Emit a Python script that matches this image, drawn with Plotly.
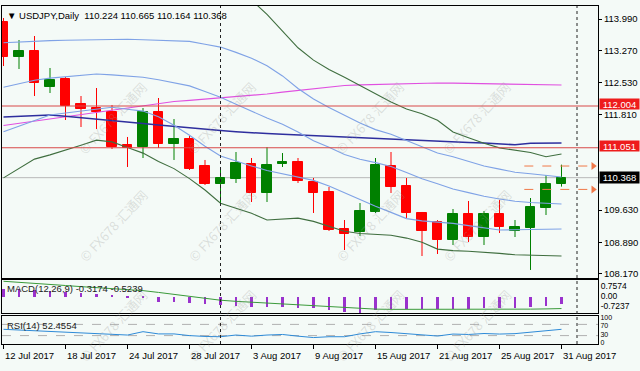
import plotly.graph_objects as go

# ---------------- data ----------------
bar_dates = ["12 Jul", "13 Jul", "14 Jul", "17 Jul", "18 Jul", "19 Jul", "20 Jul", "21 Jul",
             "24 Jul", "25 Jul", "26 Jul", "27 Jul", "28 Jul", "31 Jul", "1 Aug", "2 Aug",
             "3 Aug", "4 Aug", "7 Aug", "8 Aug", "9 Aug", "10 Aug", "11 Aug", "14 Aug",
             "15 Aug", "16 Aug", "17 Aug", "18 Aug", "21 Aug", "22 Aug", "23 Aug", "24 Aug",
             "25 Aug", "28 Aug", "29 Aug", "30 Aug", "31 Aug"]
tick_idx = [0, 4, 8, 12, 16, 20, 24, 28, 32, 36]
tick_labels = ["12 Jul 2017", "18 Jul 2017", "24 Jul 2017", "28 Jul 2017", "3 Aug 2017",
               "9 Aug 2017", "15 Aug 2017", "21 Aug 2017", "25 Aug 2017", "31 Aug 2017"]

opens = [113.922, 113.123, 113.260, 112.438, 112.620, 112.050, 111.958, 111.867, 111.114, 111.068,
         111.867, 111.137, 111.251, 110.635, 110.224, 110.338, 110.680, 110.018, 110.680, 110.726,
         110.269, 110.041, 109.197, 109.128, 109.585, 110.635, 110.178, 109.562, 109.356, 108.945,
         109.539, 109.014, 109.539, 109.151, 109.219, 109.676, 110.224]
highs = [114.013, 113.511, 113.602, 112.872, 112.666, 112.232, 112.415, 112.027, 111.297, 111.958,
         112.187, 111.707, 111.319, 110.772, 110.566, 110.954, 110.817, 111.068, 110.931, 110.817,
         110.361, 110.155, 109.402, 109.790, 110.817, 110.954, 110.361, 109.585, 109.400, 109.653,
         109.836, 109.607, 109.858, 109.402, 109.904, 110.429, 110.665]
lows = [112.917, 112.849, 112.232, 112.301, 111.685, 111.525, 111.479, 111.023, 110.612, 110.817,
        111.046, 110.772, 110.543, 110.201, 109.744, 110.247, 109.813, 109.813, 110.612, 110.247,
        109.562, 109.151, 108.717, 109.037, 109.562, 110.018, 109.448, 108.580, 108.626, 108.831,
        108.900, 108.831, 109.105, 109.014, 108.261, 109.516, 110.164]
closes = [113.123, 113.260, 112.529, 112.598, 112.004, 111.936, 111.867, 111.068, 111.046, 111.867,
          111.137, 111.251, 110.566, 110.224, 110.361, 110.703, 110.018, 110.657, 110.726, 110.292,
          110.018, 109.174, 109.082, 109.607, 110.657, 110.155, 109.562, 109.151, 108.945, 109.539,
          109.014, 109.539, 109.242, 109.242, 109.699, 110.224, 110.368]

ma_magenta = [111.559, 111.609, 111.657, 111.707, 111.765, 111.819, 111.869, 111.920, 111.970, 112.018,
              112.068, 112.107, 112.134, 112.162, 112.187, 112.219, 112.248, 112.278, 112.319, 112.358,
              112.399, 112.436, 112.472, 112.488, 112.497, 112.506, 112.516, 112.522, 112.529, 112.525,
              112.520, 112.518, 112.513, 112.511, 112.506, 112.495, 112.484]
ma_navy = [111.755, 111.771, 111.785, 111.799, 111.769, 111.739, 111.710, 111.680, 111.641, 111.607,
           111.568, 111.534, 111.498, 111.470, 111.443, 111.418, 111.390, 111.374, 111.358, 111.342,
           111.326, 111.308, 111.292, 111.274, 111.256, 111.237, 111.224, 111.210, 111.198, 111.185,
           111.173, 111.160, 111.135, 111.119, 111.153, 111.160, 111.160]
ma_blue_a = [113.447, 113.467, 113.490, 113.497, 113.506, 113.513, 113.522, 113.531, 113.527, 113.518,
             113.506, 113.497, 113.479, 113.415, 113.349, 113.228, 113.095, 112.924, 112.691, 112.404,
             112.164, 111.970, 111.792, 111.616, 111.465, 111.358, 111.219, 111.075, 110.931, 110.845,
             110.737, 110.634, 110.564, 110.493, 110.457, 110.420, 110.384]
bb_mid = [112.433, 112.513, 112.593, 112.641, 112.673, 112.703, 112.735, 112.714, 112.689, 112.662,
          112.602, 112.541, 112.463, 112.335, 112.205, 112.043, 111.885, 111.730, 111.589, 111.411,
          111.210, 111.064, 110.899, 110.790, 110.712, 110.623, 110.484, 110.345, 110.228, 110.110,
          110.027, 109.943, 109.883, 109.831, 109.801, 109.783, 109.767]
ma_blue_c = [111.418, 111.543, 111.671, 111.799, 111.844, 111.892, 111.940, 111.977, 111.931, 111.888,
             111.760, 111.564, 111.338, 111.084, 110.861, 110.742, 110.637, 110.530, 110.454, 110.388,
             110.306, 110.180, 110.020, 109.859, 109.717, 109.576, 109.434, 109.382, 109.357, 109.324,
             109.274, 109.224, 109.174, 109.178, 109.185, 109.192, 109.197]
bb_upper = [None] * 15 + [114.698, 114.424, 114.095, 113.725, 113.333, 113.052, 112.837, 112.659,
                          112.474, 112.283, 112.093, 111.936, 111.828, 111.680, 111.411, 111.281,
                          111.155, 111.048, 110.993, 110.941, 110.847, 110.909]
bb_lower = [110.363, 110.578, 110.792, 110.888, 110.993, 111.107, 111.224, 111.185, 111.057, 110.929,
            110.737, 110.575, 110.347, 110.087, 109.785, 109.674, 109.555, 109.402, 109.423, 109.445,
            109.370, 109.265, 109.146, 109.094, 109.076, 109.055, 108.989, 108.895, 108.738, 108.703,
            108.687, 108.669, 108.640, 108.608, 108.596, 108.587, 108.580]

macd_hist = [0.37, 0.34, 0.31, 0.27, 0.235, 0.19, 0.15, 0.09, -0.03, -0.06, -0.21, -0.25, -0.28,
             -0.32, -0.37, -0.43, -0.44, -0.47, -0.47, -0.50, -0.50, -0.59, -0.69, -0.72, -0.59,
             -0.54, -0.54, -0.54, -0.55, -0.55, -0.54, -0.52, -0.50, -0.48, -0.46, -0.42, -0.3174]
macd_signal = [0.70, 0.66, 0.61, 0.56, 0.51, 0.46, 0.42, 0.38, 0.34, 0.28, 0.20, 0.11, 0.03, -0.06,
               -0.15, -0.20, -0.24, -0.28, -0.31, -0.35, -0.38, -0.44, -0.49, -0.53, -0.55, -0.56,
               -0.56, -0.57, -0.57, -0.58, -0.58, -0.57, -0.56, -0.55, -0.55, -0.54, -0.5239]
rsi = [52.5, 50, 48, 46.5, 43, 39, 37.5, 34, 32, 44, 36, 36, 30, 27, 26, 32, 28, 32, 34, 28, 23,
       26, 26, 36, 44, 41, 37.5, 32, 28.5, 35.5, 34, 37.5, 35.5, 37, 43, 48, 52.4554]

red_levels = [112.004, 111.051]
last_price = 110.368
orange_levels = [110.634, 110.100]
month_separators = [14, 37]

price_ticks = [113.990, 113.270, 112.530, 111.810, 109.630, 108.890, 108.170]
macd_range = [-0.7237, 0.7574]
macd_tick_pos = [0.50, 0.02, -0.42]
macd_tick_text = ["0.7574", "0.00", "-0.7237"]
rsi_levels = [70, 30]
rsi_tick_pos = [94, 66, 35, 6]
rsi_tick_text = ["100", "70", "30", "0"]

title_text = "\u25bc USDJPY,Daily  110.224 110.665 110.164 110.368"
macd_text = "MACD(12,26,9) -0.3174 -0.5239"
rsi_text = "RSI(14) 52.4554"
watermark = "\u00a9 FX678 \u6c47\u901a\u7f51"

# ---------------- styling ----------------
BG = "#F4FAF7"
RED = "#FF0000"
GREEN = "#008000"
FONT = "Liberation Sans, Arial, sans-serif"
W, H = 640, 371
ML, MR, MT, MB = 2, 42, 6, 27
PW, PH = W - ML - MR, H - MT - MB
X_RANGE = [(ML - 3.5) / 15.5, (W - MR - 3.5) / 15.5]


def py(px_y):  # pixel row -> paper y
    return (H - MB - px_y) / PH


def px(px_x):  # pixel column -> paper x
    return (px_x - ML) / PW


idx = list(range(len(opens)))
up = [i for i in idx if closes[i] >= opens[i]]
dn = [i for i in idx if closes[i] < opens[i]]

fig = go.Figure()


def wicks(ids, color):
    xs, ys = [], []
    for i in ids:
        xs += [i, i, None]
        ys += [lows[i], highs[i], None]
    return go.Scatter(x=xs, y=ys, mode="lines", line=dict(color=color, width=1),
                      xaxis="x", yaxis="y", hoverinfo="skip")


def bodies(ids, color):
    return go.Bar(x=ids, base=[min(opens[i], closes[i]) for i in ids],
                  y=[abs(closes[i] - opens[i]) for i in ids], width=0.6,
                  marker=dict(color=color, line=dict(color=color, width=1)),
                  xaxis="x", yaxis="y")


fig.add_trace(wicks(up, GREEN))
fig.add_trace(wicks(dn, RED))
fig.add_trace(bodies(up, GREEN))
fig.add_trace(bodies(dn, RED))

for series, color, w in [(ma_magenta, "#E050E0", 1.2), (ma_navy, "#2E2E9E", 1.5),
                         (ma_blue_a, "#7FA2E6", 1.1), (bb_mid, "#7FA2E6", 1.1),
                         (ma_blue_c, "#7FA2E6", 1.1), (bb_upper, "#3F6E3F", 1.1),
                         (bb_lower, "#3F6E3F", 1.1)]:
    fig.add_trace(go.Scatter(x=idx, y=series, mode="lines", line=dict(color=color, width=w),
                             xaxis="x", yaxis="y", hoverinfo="skip"))

# arrow heads of the orange dashed levels
fig.add_trace(go.Scatter(x=[38.05] * len(orange_levels), y=orange_levels, mode="markers",
                         marker=dict(symbol="triangle-right", size=7, color="#F07848"),
                         xaxis="x", yaxis="y", hoverinfo="skip"))

# MACD
fig.add_trace(go.Bar(x=idx, y=macd_hist, width=0.14, marker=dict(color="#9A32CD", line=dict(width=0)),
                     xaxis="x2", yaxis="y2"))
fig.add_trace(go.Scatter(x=idx, y=macd_signal, mode="lines", line=dict(color="#3A9A3A", width=1),
                         xaxis="x2", yaxis="y2", hoverinfo="skip"))
# RSI
fig.add_trace(go.Scatter(x=idx, y=rsi, mode="lines", line=dict(color="#2E8BD8", width=1),
                         xaxis="x3", yaxis="y3", hoverinfo="skip"))

shapes = []
for lv in red_levels:
    shapes.append(dict(type="line", xref="paper", x0=0, x1=1, yref="y", y0=lv, y1=lv,
                       line=dict(color="#D84848", width=1)))
shapes.append(dict(type="line", xref="paper", x0=0, x1=1, yref="y", y0=last_price, y1=last_price,
                   line=dict(color="#B8B8B8", width=1), layer="below"))
for lv in orange_levels:
    shapes.append(dict(type="line", xref="x", x0=33.6, x1=37.9, yref="y", y0=lv, y1=lv,
                       line=dict(color="#F07848", width=1, dash="dash")))
for lv in rsi_levels:
    shapes.append(dict(type="line", xref="paper", x0=0, x1=1, yref="y3", y0=lv, y1=lv,
                       line=dict(color="#B0B0B0", width=1, dash="dash"), layer="below"))
for s in month_separators:
    shapes.append(dict(type="line", xref="x", x0=s, x1=s, yref="paper", y0=0, y1=1,
                       line=dict(color="#222222", width=1, dash="dot")))

ann = []
# watermarks
for cy in [75, 225, 368]:
    for cx in [72, 222, 370, 518]:
        ann.append(dict(text=watermark, x=px(cx), y=py(cy), xref="paper", yref="paper",
                        showarrow=False, textangle=-47,
                        font=dict(family="Noto Sans CJK SC, sans-serif", size=13,
                                  color="rgba(150,150,150,0.28)")))
ann.append(dict(text=title_text, x=px(5), y=py(15), xref="paper", yref="paper", xanchor="left",
                yanchor="middle", showarrow=False, font=dict(family=FONT, size=9.5, color="#000")))
ann.append(dict(text=macd_text, x=px(5), y=py(288), xref="paper", yref="paper", xanchor="left",
                yanchor="middle", showarrow=False, font=dict(family=FONT, size=9.5, color="#222")))
ann.append(dict(text=rsi_text, x=px(5), y=py(325), xref="paper", yref="paper", xanchor="left",
                yanchor="middle", showarrow=False, font=dict(family=FONT, size=9.5, color="#222")))
for lv in red_levels:
    ann.append(dict(text=f"{lv:.3f}", x=1, xshift=1, y=lv, yshift=2, xref="paper", yref="y",
                    xanchor="left", yanchor="middle", showarrow=False, bgcolor="#EE1C1C",
                    borderpad=0, width=39, height=10,
                    font=dict(family=FONT, size=9.5, color="#FFFFFF")))
ann.append(dict(text=f"{last_price:.3f}", x=1, xshift=1, y=last_price, xref="paper", yref="y",
                xanchor="left", yanchor="middle", showarrow=False, bgcolor="#000000", borderpad=0,
                width=39, height=11, font=dict(family=FONT, size=9.5, color="#FFFFFF")))
for i, lab in zip(tick_idx, tick_labels):
    ann.append(dict(text=lab, x=i, xref="x3", xshift=-1, y=py(355), yref="paper", xanchor="left",
                    yanchor="middle", showarrow=False, font=dict(family=FONT, size=9.5, color="#000")))

axis_common = dict(showgrid=False, zeroline=False, showline=True, mirror=True, linecolor="#000",
                   linewidth=1)
fig.update_layout(
    width=W, height=H, margin=dict(l=ML, r=MR, t=MT, b=MB),
    paper_bgcolor=BG, plot_bgcolor=BG, showlegend=False, barmode="overlay", bargap=0,
    font=dict(family=FONT, size=9.5, color="#000"),
    xaxis=dict(domain=[0, 1], range=X_RANGE, anchor="y", showticklabels=False, ticks="", **axis_common),
    xaxis2=dict(domain=[0, 1], range=X_RANGE, anchor="y2", matches="x", showticklabels=False,
                ticks="", **axis_common),
    xaxis3=dict(domain=[0, 1], range=X_RANGE, anchor="y3", matches="x", showticklabels=False,
                ticks="outside", ticklen=4, tickcolor="#000", tickvals=tick_idx, **axis_common),
    yaxis=dict(domain=[py(278), 1], range=[108.078, 114.287], anchor="x", side="right",
               tickvals=price_ticks, ticktext=[f"{v:.3f}" for v in price_ticks], ticks="outside",
               ticklen=3, tickcolor="#000", **axis_common),
    yaxis2=dict(domain=[py(313), py(280)], range=macd_range, anchor="x2", side="right",
                tickvals=macd_tick_pos, ticktext=macd_tick_text, ticks="",
                tickfont=dict(family=FONT, size=8.5), **axis_common),
    yaxis3=dict(domain=[0, py(316)], range=[0, 100], anchor="x3", side="right",
                tickvals=rsi_tick_pos, ticktext=rsi_tick_text, ticks="",
                tickfont=dict(family=FONT, size=7), **axis_common),
    shapes=shapes, annotations=ann,
)

fig.write_html("out.html")
